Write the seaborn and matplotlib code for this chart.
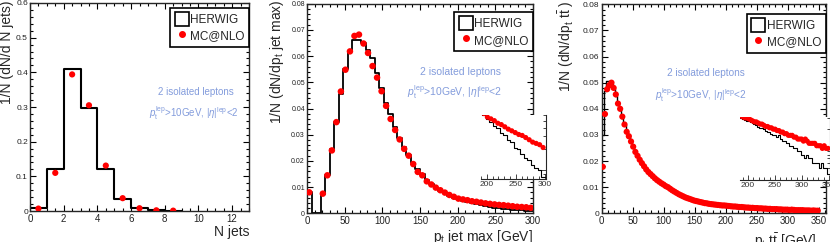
import numpy as np
import pandas as pd
import matplotlib
matplotlib.use('Agg')
import matplotlib.pyplot as plt
from matplotlib.patches import Patch
from matplotlib.lines import Line2D
from matplotlib.ticker import MultipleLocator, FuncFormatter, NullFormatter, LogLocator
import seaborn as sns

# ===================== DATEN =====================
# N jets (Bins der Breite 1)
njet_edges = np.arange(0, 10, 1.0)
njet_herwig = [0.010, 0.120, 0.410, 0.296, 0.120, 0.035, 0.008, 0.002, 0.001]
njet_mcatnlo = [0.007, 0.110, 0.394, 0.305, 0.131, 0.037, 0.008, 0.002, 0.001]

# pt jet max (Bins der Breite 6 GeV, 0..300)
ptjet_edges = np.arange(0, 301, 6.0)
ptjet_herwig = [
    0.0080, 0.0, 0.0, 0.0075, 0.0148, 0.0245, 0.0350, 0.0455, 0.0550, 0.0620,
    0.0662, 0.0662, 0.0650, 0.0622, 0.0592, 0.0535, 0.0478, 0.0422, 0.0378, 0.0330,
    0.0287, 0.0252, 0.0222, 0.0192, 0.0168, 0.0150, 0.0126, 0.0111, 0.0098, 0.0086,
    0.0076, 0.0067, 0.0060, 0.0053, 0.0048, 0.0042, 0.0039, 0.0034, 0.0031, 0.0027,
    0.0025, 0.0021, 0.0020, 0.0017, 0.0015, 0.0014, 0.0012, 0.0011, 0.0010, 0.0008]
ptjet_mcatnlo = [
    0.0080, 0.0, 0.0, 0.0075, 0.0145, 0.0240, 0.0348, 0.0465, 0.0548, 0.0618,
    0.0677, 0.0682, 0.0648, 0.0612, 0.0562, 0.0518, 0.0466, 0.0410, 0.0360, 0.0318,
    0.0282, 0.0246, 0.0220, 0.0188, 0.0158, 0.0145, 0.0122, 0.0110, 0.0098, 0.0088,
    0.0079, 0.0070, 0.0063, 0.0056, 0.0053, 0.0050, 0.0046, 0.0044, 0.0041, 0.0038,
    0.0036, 0.0034, 0.0032, 0.0031, 0.0029, 0.0027, 0.0025, 0.0024, 0.0023, 0.0021]

# pt ttbar (Bins der Breite 3.5 GeV, 0..350)
pttt_edges = np.linspace(0, 350, 101)
pttt_herwig = [
    0.0300, 0.0470, 0.0505, 0.0505, 0.0495, 0.0475, 0.0450, 0.0420, 0.0395, 0.0365,
    0.0338, 0.0312, 0.0292, 0.0272, 0.0252, 0.0234, 0.0218, 0.0203, 0.0190, 0.0178,
    0.0166, 0.0156, 0.0147, 0.0139, 0.0131, 0.0124, 0.0118, 0.0112, 0.0106, 0.0101,
    0.0096, 0.0091, 0.0086, 0.0081, 0.0076, 0.0071, 0.0067, 0.0063, 0.0059, 0.0056,
    0.0053, 0.0050, 0.0047, 0.0045, 0.0043, 0.0041, 0.0039, 0.0037, 0.0035, 0.0034,
    0.0033, 0.0032, 0.0031, 0.0030, 0.0029, 0.0028, 0.0027, 0.0027, 0.0026, 0.0025,
    0.0024, 0.0023, 0.0022, 0.0021, 0.0021, 0.0020, 0.0019, 0.0018, 0.0018, 0.0017,
    0.0016, 0.0016, 0.0015, 0.0016, 0.0014, 0.0013, 0.0013, 0.0012, 0.0012, 0.0011,
    0.0011, 0.0010, 0.0010, 0.0009, 0.0009, 0.0008, 0.0008, 0.0007, 0.0008, 0.0007,
    0.0007, 0.0006, 0.0006, 0.0006, 0.0006, 0.0005, 0.0006, 0.0005, 0.0005, 0.0004]
pttt_mcatnlo = [
    0.0178, 0.0380, 0.0475, 0.0490, 0.0500, 0.0480, 0.0455, 0.0420, 0.0400, 0.0370,
    0.0340, 0.0312, 0.0295, 0.0275, 0.0255, 0.0235, 0.0220, 0.0205, 0.0192, 0.0180,
    0.0168, 0.0158, 0.0150, 0.0142, 0.0134, 0.0127, 0.0121, 0.0115, 0.0110, 0.0104,
    0.0100, 0.0094, 0.0088, 0.0083, 0.0078, 0.0073, 0.0069, 0.0065, 0.0061, 0.0058,
    0.0055, 0.0052, 0.0049, 0.0047, 0.0045, 0.0043, 0.0041, 0.0039, 0.0038, 0.0036,
    0.0035, 0.0034, 0.0033, 0.0032, 0.0031, 0.0030, 0.0030, 0.0029, 0.0028, 0.0027,
    0.0026, 0.0026, 0.0025, 0.0024, 0.0024, 0.0023, 0.0022, 0.0022, 0.0021, 0.0021,
    0.0020, 0.0020, 0.0019, 0.0019, 0.0018, 0.0018, 0.0017, 0.0017, 0.0016, 0.0016,
    0.0016, 0.0015, 0.0015, 0.0014, 0.0014, 0.0014, 0.0013, 0.0014, 0.0013, 0.0012,
    0.0012, 0.0012, 0.0012, 0.0011, 0.0011, 0.0011, 0.0010, 0.0011, 0.0010, 0.0010]

CUT_TEXT = ['2 isolated leptons', r'$p_{\rm t}^{\rm lep}$>10GeV, $|\eta|^{\rm lep}$<2']
TEXT_COLOR = '#839cdc'

# ===================== STIL =====================
sns.set_style('ticks')
plt.rcParams['font.family'] = ['Liberation Sans', 'DejaVu Sans']
plt.rcParams['mathtext.fontset'] = 'custom'
plt.rcParams['mathtext.rm'] = 'Liberation Sans'
plt.rcParams['mathtext.it'] = 'Liberation Sans:italic'
plt.rcParams['axes.linewidth'] = 1.0


def zero_fmt(v, pos):
    return '0' if abs(v) < 1e-12 else f'{v:g}'


def draw_hist(ax, edges, herwig, mcatnlo, lw, ms):
    edges = np.asarray(edges)
    centers = 0.5 * (edges[:-1] + edges[1:])
    df = pd.DataFrame({'x': centers, 'herwig': herwig, 'mcatnlo': mcatnlo})
    sns.histplot(data=df, x='x', weights='herwig', bins=list(edges), element='step',
                 fill=False, color='black', linewidth=lw, ax=ax)
    pts = df[df['mcatnlo'] > 0]
    sns.scatterplot(data=pts, x='x', y='mcatnlo', color='red', s=ms, edgecolor='none',
                    linewidth=0, ax=ax, zorder=3)


def style_main(ax, xmaj, xmin, ymaj, ymin, ysize=6):
    ax.xaxis.set_major_locator(MultipleLocator(xmaj))
    ax.xaxis.set_minor_locator(MultipleLocator(xmin))
    ax.yaxis.set_major_locator(MultipleLocator(ymaj))
    ax.yaxis.set_minor_locator(MultipleLocator(ymin))
    ax.yaxis.set_major_formatter(FuncFormatter(zero_fmt))
    ax.tick_params(which='both', direction='in', top=True, right=True, width=0.8,
                   colors='black', labelcolor='#222222')
    ax.tick_params(which='major', length=4.5)
    ax.tick_params(which='minor', length=2.2)
    ax.tick_params(axis='x', labelsize=7, pad=2)
    ax.tick_params(axis='y', labelsize=ysize, pad=1.5)


def add_legend(ax, anchor):
    handles = [Patch(facecolor='white', edgecolor='black', linewidth=1.2, label='HERWIG'),
               Line2D([], [], marker='o', color='red', linestyle='none', markersize=4,
                      label='MC@NLO')]
    leg = ax.legend(handles=handles, loc='upper right', bbox_to_anchor=anchor,
                    frameon=True, fancybox=False, framealpha=1, edgecolor='black',
                    borderaxespad=0, handlelength=1.2, handleheight=1.4,
                    handletextpad=0.15, borderpad=0.35, labelspacing=0.25,
                    fontsize=8.5)
    leg.get_frame().set_linewidth(1.2)


def add_cuts(ax, pos1, pos2, size):
    ax.text(pos1[0], pos1[1], CUT_TEXT[0], transform=ax.transAxes, ha='center',
            va='center', color=TEXT_COLOR, fontsize=size)
    ax.text(pos2[0], pos2[1], CUT_TEXT[1], transform=ax.transAxes, ha='center',
            va='center', color=TEXT_COLOR, fontsize=size)


def add_inset(fig, rect, edges, herwig, mcatnlo, xlim, ylim, ms):
    ins = fig.add_axes(rect, facecolor='white', zorder=5)
    draw_hist(ins, edges, herwig, mcatnlo, 0.8, ms)
    ins.set_yscale('log')
    ins.set_xlim(*xlim)
    ins.set_ylim(*ylim)
    ins.set_xlabel('')
    ins.set_ylabel('')
    ins.spines['left'].set_visible(False)
    ins.spines['top'].set_visible(False)
    ins.spines['right'].set_linewidth(0.8)
    ins.spines['bottom'].set_linewidth(0.8)
    ins.xaxis.set_major_locator(MultipleLocator(50))
    ins.xaxis.set_minor_locator(MultipleLocator(10))
    ins.yaxis.set_major_locator(LogLocator(base=10))
    ins.yaxis.set_minor_locator(LogLocator(base=10, subs=np.arange(2, 10)))
    ins.yaxis.set_major_formatter(NullFormatter())
    ins.yaxis.set_minor_formatter(NullFormatter())
    ins.yaxis.tick_right()
    ins.tick_params(which='both', direction='in', width=0.6, left=False, top=False,
                    right=True, labelleft=False, labelright=False)
    ins.tick_params(which='major', length=3.5)
    ins.tick_params(which='minor', length=2)
    ins.tick_params(axis='x', labelsize=6, pad=1.5, labelcolor='#333333')
    return ins


fig = plt.figure(figsize=(8.3, 2.42), dpi=100)

# ----- Panel 1: N jets -----
ax1 = fig.add_axes([30 / 830, 31 / 242, 219 / 830, 208 / 242])
draw_hist(ax1, njet_edges, njet_herwig, njet_mcatnlo, 1.5, 20)
ax1.set_xlim(0, 13)
ax1.set_ylim(0, 0.6)
style_main(ax1, 2, 0.5, 0.1, 0.02)
ax1.set_xlabel('N jets', loc='right', fontsize=10)
ax1.xaxis.set_label_coords(1.0, -0.065)
ax1.set_ylabel('1/N (dN/d N jets)', loc='top', fontsize=10)
ax1.yaxis.set_label_coords(-0.074, 1.01)
add_legend(ax1, (1.0, 0.976))
add_cuts(ax1, (0.758, 0.572), (0.75, 0.47), 7)

# ----- Panel 2: pt jet max -----
ax2 = fig.add_axes([307 / 830, 28.7 / 242, 226 / 830, 209.6 / 242])
draw_hist(ax2, ptjet_edges, ptjet_herwig, ptjet_mcatnlo, 1.3, 22)
ax2.set_xlim(0, 300)
ax2.set_ylim(0, 0.08)
style_main(ax2, 50, 10, 0.01, 0.002, ysize=5)
ax2.set_xlabel(r'p$_{\rm t}$ jet max [GeV]', loc='right', fontsize=10)
ax2.xaxis.set_label_coords(1.0, -0.07)
ax2.set_ylabel(r'1/N (dN/dp$_{\rm t}$ jet max)', loc='top', fontsize=10)
ax2.yaxis.set_label_coords(-0.095, 1.02)
add_legend(ax2, (1.0, 0.96))
add_cuts(ax2, (0.677, 0.674), (0.655, 0.578), 7.5)
add_inset(fig, [481 / 830, 63 / 242, 65 / 830, 64 / 242], ptjet_edges, ptjet_herwig,
          ptjet_mcatnlo, (190, 302), (0.00076, 0.0060), 14)

# ----- Panel 3: pt ttbar -----
ax3 = fig.add_axes([601.7 / 830, 28.7 / 242, 224 / 830, 209 / 242])
draw_hist(ax3, pttt_edges, pttt_herwig, pttt_mcatnlo, 1.0, 20)
ax3.set_xlim(0, 361)
ax3.set_ylim(0, 0.08)
style_main(ax3, 50, 10, 0.01, 0.002)
ax3.set_xlabel(r'p$_{\rm t}$ t$\bar{\rm t}$ [GeV]', loc='right', fontsize=10)
ax3.xaxis.set_label_coords(0.96, -0.085)
ax3.set_ylabel(r'1/N (dN/dp$_{\rm t}$ t$\bar{\rm t}$ )', loc='top', fontsize=10)
ax3.yaxis.set_label_coords(-0.115, 1.02)
add_legend(ax3, (1.0, 0.954))
add_cuts(ax3, (0.466, 0.669), (0.443, 0.564), 7.2)
add_inset(fig, [740 / 830, 62 / 242, 90 / 830, 63 / 242], pttt_edges, pttt_herwig,
          pttt_mcatnlo, (185, 352), (0.00032, 0.0031), 14)

fig.savefig('out.png', dpi=100)
